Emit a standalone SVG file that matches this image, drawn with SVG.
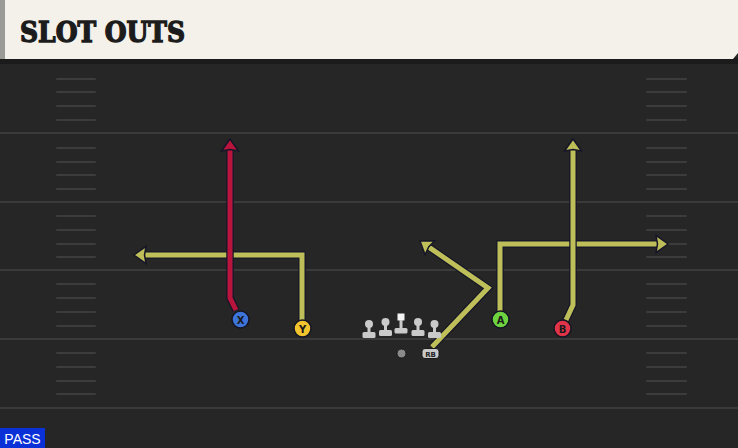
<svg xmlns="http://www.w3.org/2000/svg" width="738" height="448" viewBox="0 0 738 448">
<defs>
<style>
.yl{stroke:#3a3a3a;stroke-width:2}
.hash{stroke:#3c3c3c;stroke-width:2;stroke-linecap:round}
.out{fill:none;stroke:#161628;stroke-width:7.5;stroke-linejoin:miter}
.ry{fill:none;stroke:#bfbf5a;stroke-width:5;stroke-linejoin:miter}
.rr{fill:none;stroke:#b8143c;stroke-width:5;stroke-linejoin:miter}
.pc{stroke:#151525;stroke-width:1.5}
.pl{font-family:"DejaVu Sans",sans-serif;font-weight:bold;font-size:10px;fill:#1a1a1a;text-anchor:middle}
.ol{fill:#cacaca}
</style>
<marker id="ay" markerUnits="userSpaceOnUse" markerWidth="30" markerHeight="30" refX="15" refY="15" orient="auto" overflow="visible">
<path d="M23,15 L11,6.5 L12.5,15 L11,23.5 Z" fill="#bfbf5a" stroke="#161628" stroke-width="1.5" stroke-linejoin="miter"/>
</marker>
<marker id="ar" markerUnits="userSpaceOnUse" markerWidth="30" markerHeight="30" refX="15" refY="15" orient="auto" overflow="visible">
<path d="M23,15 L11,6.5 L12.5,15 L11,23.5 Z" fill="#b8143c" stroke="#161628" stroke-width="1.5" stroke-linejoin="miter"/>
</marker>
</defs>
<rect x="0" y="0" width="738" height="448" fill="#262626"/>
<rect x="0" y="58" width="738" height="6" fill="#1b1b1b"/>
<g id="field">
<line class="yl" x1="0" y1="133" x2="738" y2="133"/>
<line class="yl" x1="0" y1="202" x2="738" y2="202"/>
<line class="yl" x1="0" y1="270" x2="738" y2="270"/>
<line class="yl" x1="0" y1="339" x2="738" y2="339"/>
<line class="yl" x1="0" y1="408" x2="738" y2="408"/>
<g id="hashes">
<path class="hash" d="M57,79H95M57,92H95M57,106H95M57,120H95M57,148H95M57,162H95M57,175H95M57,189H95M57,216H95M57,230H95M57,244H95M57,257H95M57,284H95M57,298H95M57,312H95M57,326H95M57,353H95M57,367H95M57,381H95M57,394H95"/>
<path class="hash" d="M647,79H686M647,92H686M647,106H686M647,120H686M647,148H686M647,162H686M647,175H686M647,189H686M647,216H686M647,230H686M647,244H686M647,257H686M647,284H686M647,298H686M647,312H686M647,326H686M647,353H686M647,367H686M647,381H686M647,394H686"/>
</g>
</g>
<g id="header">
<path d="M0,0 H738 V53 L733,59 H0 Z" fill="#f3f1ea"/>
<rect x="0" y="0" width="5" height="59" fill="#9a9a96"/>
<text x="20" y="42" font-family="'DejaVu Serif',serif" font-weight="bold" font-size="27" fill="#1c1c1c" stroke="#1c1c1c" stroke-width="1.4" textLength="165" lengthAdjust="spacingAndGlyphs">SLOT OUTS</text>
</g>
<g id="connectors">
<path class="out" d="M302,320 L302,255 L142,255"/>
<path class="ry" d="M302,320 L302,255 L142,255" marker-end="url(#ay)"/>
<path class="out" d="M432,347 L488,288 L426.6,245.6"/>
<path class="ry" d="M432,347 L488,288 L426.6,245.6" marker-end="url(#ay)"/>
<path class="out" d="M500,311 L500,244 L660,244"/>
<path class="ry" d="M500,311 L500,244 L660,244" marker-end="url(#ay)"/>
<path class="out" d="M566,320 L573,305 L573,147"/>
<path class="ry" d="M566,320 L573,305 L573,147" marker-end="url(#ay)"/>
<path class="out" d="M236,310 L230,298 L230,147"/>
<path class="rr" d="M236,310 L230,298 L230,147" marker-end="url(#ar)"/>
</g>
<g id="line">
<g id="lt1"><circle class="ol" cx="369" cy="324" r="4"/><rect class="ol" x="367.5" y="324" width="3" height="10"/><rect class="ol" x="362.5" y="332" width="13" height="6" rx="1.5"/></g>
<g id="lt2"><circle class="ol" cx="385.5" cy="322" r="4"/><rect class="ol" x="384" y="322" width="3" height="10"/><rect class="ol" x="379" y="330" width="13" height="6" rx="1.5"/></g>
<g id="center"><rect x="397.5" y="313.5" width="7" height="7" fill="#f4f4f4"/><rect class="ol" x="399.5" y="320" width="3" height="9"/><rect class="ol" x="394.5" y="328" width="13" height="5.5" rx="1.5"/></g>
<g id="lt3"><circle class="ol" cx="418" cy="322" r="4"/><rect class="ol" x="416.5" y="322" width="3" height="10"/><rect class="ol" x="411.5" y="330" width="13" height="6" rx="1.5"/></g>
<g id="lt4"><circle class="ol" cx="434.5" cy="324" r="4"/><rect class="ol" x="433" y="324" width="3" height="10"/><rect class="ol" x="428" y="332" width="13" height="6" rx="1.5"/></g>
</g>
<g id="qb"><circle cx="401.5" cy="353.5" r="4.5" fill="#8a8a8a" stroke="#1a1a1a" stroke-width="1"/></g>
<g id="rb"><rect x="422" y="348.5" width="17" height="10" rx="3" fill="#c9c9c9" stroke="#1a1a1a" stroke-width="1"/><text x="430.5" y="356.5" font-family="'DejaVu Sans',sans-serif" font-size="7" font-weight="bold" fill="#222" text-anchor="middle">RB</text></g>
<g id="pX"><circle class="pc" cx="240.5" cy="319.5" r="8.5" fill="#3d74d9"/><text class="pl" x="240.5" y="323.5">X</text></g>
<g id="pY"><circle class="pc" cx="302.5" cy="328.5" r="8.5" fill="#f2c52e"/><text class="pl" x="302.5" y="332.5">Y</text></g>
<g id="pA"><circle class="pc" cx="500.5" cy="319.5" r="8.5" fill="#6dd43f"/><text class="pl" x="500.5" y="323.5">A</text></g>
<g id="pB"><circle class="pc" cx="562.5" cy="328.5" r="8.5" fill="#e23448"/><text class="pl" x="562.5" y="332.5">B</text></g>
<g id="pass"><rect x="0" y="428" width="45" height="20" fill="#0a31d8"/><text x="22.5" y="444" font-family="'Liberation Sans',sans-serif" font-size="14" fill="#ffffff" text-anchor="middle">PASS</text></g>
</svg>
